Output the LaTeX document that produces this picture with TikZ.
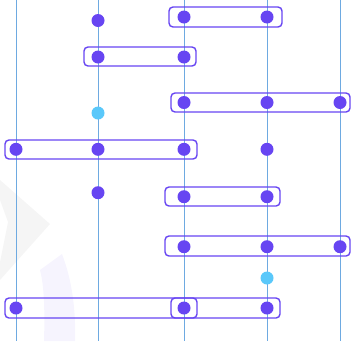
\documentclass[tikz,border=0pt]{standalone}
\usepackage{tikz}
\definecolor{dotpurple}{RGB}{103,69,242}
\definecolor{dotcyan}{RGB}{90,200,250}
\definecolor{lane}{RGB}{110,170,225}
\definecolor{markgray}{RGB}{245,245,245}
\definecolor{marklilac}{RGB}{246,244,254}
\begin{document}
\begin{tikzpicture}[x=0.25mm, y=-0.25mm,
			lanestyle/.style={draw=lane, line width=0.7pt},
			grp/.style={draw=dotpurple, line width=1pt, rounded corners=1mm},
			dot/.style={shape=circle, fill=dotpurple, minimum size=3.25mm, inner sep=0pt},
			idle/.style={dot, fill=dotcyan}]
			
			\useasboundingbox (0,0) rectangle (351,341);
			% faint watermark
			\fill[markgray] (0,180) -- (50,224) -- (0,280) -- (0,262) -- (8,222) -- (0,200) -- cycle;
			\fill[marklilac] (62,254) .. controls (72,280) and (76,310) .. (75,341) -- (44,341) .. controls (45,310) and (44,285) .. (40,270) -- cycle;
			
			% lanes
			\foreach \x [count=\i] in {16,98,184,267,340}
				\draw[lanestyle] (\x,0) coordinate (t\i) -- (\x,341) coordinate (b\i);
			
			% groups
			\draw[grp] (169,7) rectangle (282,27);
			\draw[grp] (84,47) rectangle (196,66);
			\draw[grp] (171,93) rectangle (350,112);
			\draw[grp] (5,140) rectangle (197,159);
			\draw[grp] (165,187) rectangle (280,206);
			\draw[grp] (165,236) rectangle (350,256);
			\draw[grp] (5,298) rectangle (280,318);
			\draw[grp] (171,298) rectangle (197,318);
			
			% row 1
			\node[dot] (a2) at (98,20.5) {};
			\node[dot] (a3) at (184,17) {};
			\node[dot] (a4) at (267,17) {};
			% row 2
			\node[dot] (b2) at (98,57) {};
			\node[dot] (b3) at (184,57) {};
			% row 3
			\node[dot] (c3) at (184,102.5) {};
			\node[dot] (c4) at (267,102.5) {};
			\node[dot] (c5) at (340,102.5) {};
			\node[idle] (c2) at (98,113) {};
			% row 4
			\node[dot] (d1) at (16,149.3) {};
			\node[dot] (d2) at (98,149.3) {};
			\node[dot] (d3) at (184,149.3) {};
			\node[dot] (d4) at (267,149.3) {};
			% row 5
			\node[dot] (e2) at (98,192.7) {};
			\node[dot] (e3) at (184,196.7) {};
			\node[dot] (e4) at (267,196.7) {};
			% row 6
			\node[dot] (f3) at (184,246.7) {};
			\node[dot] (f4) at (267,246.7) {};
			\node[dot] (f5) at (340,246.7) {};
			\node[idle] (g4) at (267,278) {};
			% row 7
			\node[dot] (h1) at (16,308) {};
			\node[dot] (h3) at (184,308) {};
			\node[dot] (h4) at (267,308) {};
			\end{tikzpicture}
\end{document}
